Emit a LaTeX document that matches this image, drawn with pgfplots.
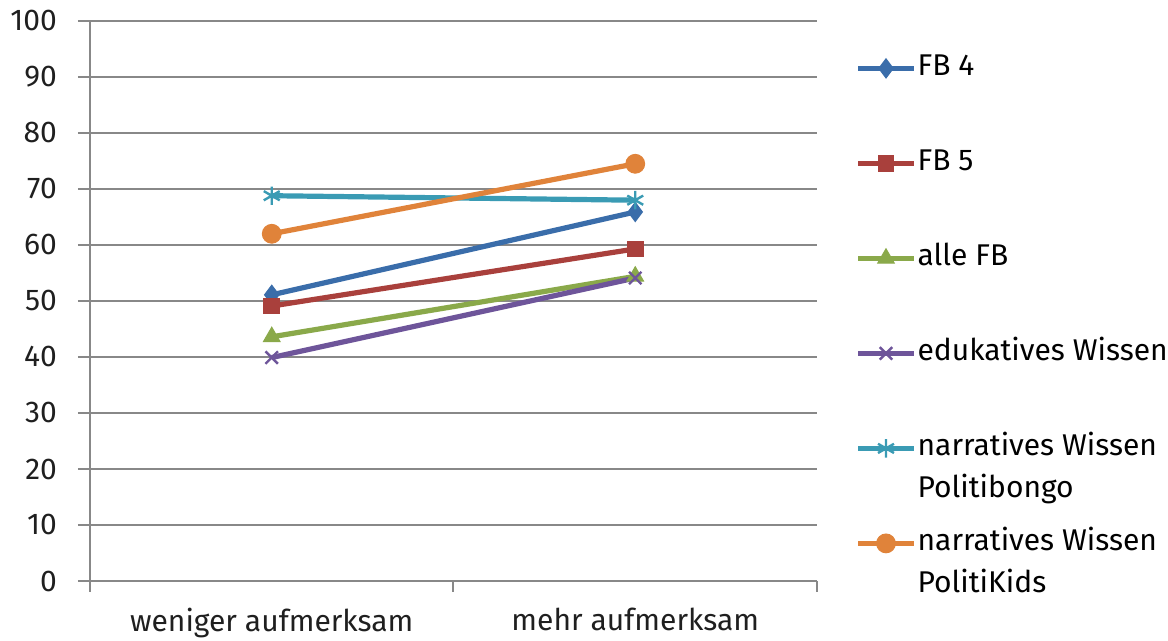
\documentclass[border=0pt]{standalone}
\usepackage{pgfplots}
\pgfplotsset{compat=1.18}
\usepackage{fontspec}
\setmainfont{Fira Sans}
\usetikzlibrary{plotmarks}
\definecolor{cblue}{HTML}{3A6DAA}
\definecolor{cred}{HTML}{A9403C}
\definecolor{cgreen}{HTML}{8AA94A}
\definecolor{cpurple}{HTML}{6E559A}
\definecolor{cteal}{HTML}{3A9BB4}
\definecolor{corange}{HTML}{E0833A}
\definecolor{cgray}{HTML}{888888}
\begin{document}
\begin{tikzpicture}
\begin{axis}[
  scale only axis,
  width=363.5pt, height=280pt,
  xmin=-0.5, xmax=1.5, ymin=0, ymax=100,
  axis x line=bottom, axis y line=left,
  axis line style={cgray, line width=1pt, -},
  xtick={0,1}, xticklabels={weniger aufmerksam, mehr aufmerksam},
  minor xtick={-0.5,0.5,1.5},
  major x tick style={draw=none},
  minor tick length=5.5pt,
  minor x tick style={cgray, line width=1pt, yshift=-2.75pt},
  ytick={0,10,...,100},
  major tick length=6pt,
  y tick style={cgray, line width=1pt, xshift=-3pt},
  ymajorgrids, grid style={cgray, line width=1pt},
  tick label style={font=\fontsize{15}{17}\selectfont, text=black!88},
  /pgf/number format/assume math mode=true,
  xticklabel style={yshift=-7pt},
  yticklabel style={xshift=-10pt},
  legend style={draw=none, fill=none, at={(1,1)}, anchor=north west, xshift=16pt, yshift=-13pt,
     font=\fontsize{15}{21}\selectfont, row sep=30.5pt,
     nodes={text height=10pt, text depth=3pt, inner xsep=0.5pt}},
  legend cell align=left,
  legend image code/.code={\draw[mark repeat=2,mark phase=2] plot coordinates {(0pt,0pt) (14pt,0pt) (28pt,0pt)};},
  every axis plot/.append style={line width=2.6pt},
  clip=false,
]
\addplot[cblue, mark=diamond*, mark size=4.8pt, mark options={solid, line width=0.5pt}] coordinates {(0,51.1) (1,65.9)};
\addlegendentry{FB 4}
\addplot[cred, mark=square*, mark size=3.9pt, mark options={solid, line width=0.5pt}] coordinates {(0,49.1) (1,59.3)};
\addlegendentry{FB 5}
\addplot[cgreen, mark=triangle*, mark size=4.8pt, mark options={solid, line width=0.5pt}] coordinates {(0,43.6) (1,54.4)};
\addlegendentry{alle FB}
\addplot[cpurple, mark=x, mark size=4.4pt, mark options={solid, line width=1.2pt}] coordinates {(0,39.9) (1,54.1)};
\addlegendentry{edukatives Wissen}
\addplot[cteal, mark=asterisk, mark size=4.6pt, mark options={solid, line width=1.2pt}] coordinates {(0,68.8) (1,68.0)};
\addlegendentry{\parbox[t]{130pt}{narratives Wissen\\Politibongo}}
\addplot[corange, mark=*, mark size=4.7pt, mark options={solid, line width=0.5pt}] coordinates {(0,62.0) (1,74.5)};
\addlegendentry{\parbox[t]{130pt}{narratives Wissen\\PolitiKids}}
\end{axis}
\pgfresetboundingbox
\path ([shift={(-45pt,-30pt)}]current axis.south west) rectangle ([shift={(175.5pt,10.5pt)}]current axis.north east);
\end{tikzpicture}
\end{document}
